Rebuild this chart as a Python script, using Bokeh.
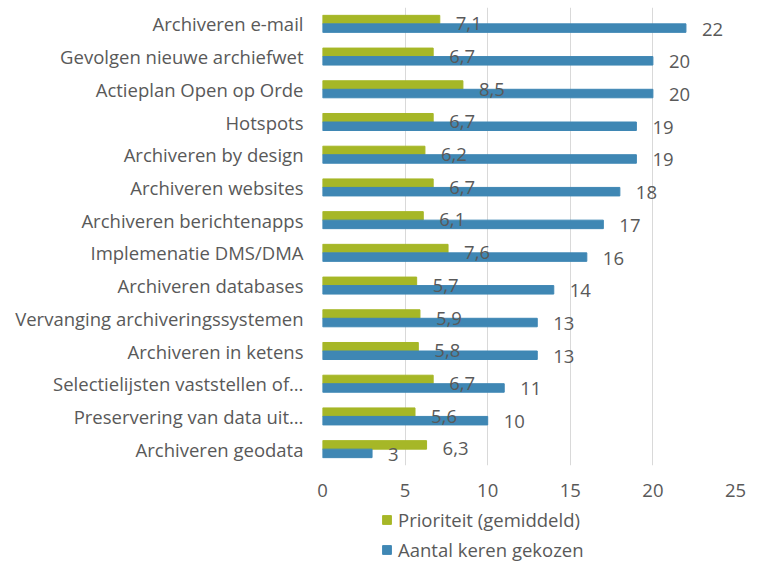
from bokeh.plotting import figure
from bokeh.models import ColumnDataSource, Legend, LegendItem, FactorRange
from bokeh.layouts import column
from bokeh.transform import dodge
from bokeh.embed import file_html
from bokeh.resources import INLINE
from bokeh.core.properties import value

categories = [
    "Archiveren e-mail",
    "Gevolgen nieuwe archiefwet",
    "Actieplan Open op Orde",
    "Hotspots",
    "Archiveren by design",
    "Archiveren websites",
    "Archiveren berichtenapps",
    "Implemenatie DMS/DMA",
    "Archiveren databases",
    "Vervanging archiveringssystemen",
    "Archiveren in ketens",
    "Selectielijsten vaststellen of\u2026",
    "Preservering van data uit\u2026",
    "Archiveren geodata",
]
prioriteit = [7.1, 6.7, 8.5, 6.7, 6.2, 6.7, 6.1, 7.6, 5.7, 5.9, 5.8, 6.7, 5.6, 6.3]
aantal = [22, 20, 20, 19, 19, 18, 17, 16, 14, 13, 13, 11, 10, 3]
x_ticks = [0, 5, 10, 15, 20, 25]
series_names = ["Prioriteit (gemiddeld)", "Aantal keren gekozen"]

GREEN = "#a6b727"
BLUE = "#3f87b4"
TEXT = "#595959"
FONT = "Open Sans"
FS = "18.5px"

src = ColumnDataSource(dict(
    cat=categories,
    prio=prioriteit,
    aantal=aantal,
    prio_lbl=[f"{v:.1f}".replace(".", ",") for v in prioriteit],
    aantal_lbl=[str(v) for v in aantal],
))

p = figure(
    width=760, height=505,
    y_range=FactorRange(factors=list(reversed(categories)), range_padding=0),
    x_range=(0, 25),
    output_backend="svg", toolbar_location=None,
    min_border_left=322, min_border_right=25, min_border_top=7, min_border_bottom=40,
)
p.outline_line_color = None
p.background_fill_color = "white"
p.border_fill_color = "white"

h = 0.26
p.hbar(y=dodge("cat", h / 2, range=p.y_range), right="prio", left=0, height=h,
       color=GREEN, source=src)
p.hbar(y=dodge("cat", -h / 2, range=p.y_range), right="aantal", left=0, height=h,
       color=BLUE, source=src)

p.text(x="prio", y=dodge("cat", h / 2, range=p.y_range), text="prio_lbl", source=src,
       x_offset=16, y_offset=4, text_baseline="middle", text_align="left",
       text_font=value(FONT), text_font_size=FS, text_color=TEXT)
p.text(x="aantal", y=dodge("cat", -h / 2, range=p.y_range), text="aantal_lbl", source=src,
       x_offset=16, y_offset=1, text_baseline="middle", text_align="left",
       text_font=value(FONT), text_font_size=FS, text_color=TEXT)

p.xaxis.ticker = x_ticks
p.xgrid.ticker = x_ticks
p.xgrid.grid_line_color = "#d9d9d9"
p.xgrid.grid_line_width = 1
p.ygrid.grid_line_color = None

for ax in (p.xaxis[0], p.yaxis[0]):
    ax.axis_line_color = None
    ax.major_tick_line_color = None
    ax.minor_tick_line_color = None
    ax.major_tick_out = 0
    ax.major_tick_in = 0
    ax.major_label_text_font = FONT
    ax.major_label_text_font_size = FS
    ax.major_label_text_color = TEXT
p.xaxis.major_label_standoff = 18
p.yaxis.major_label_standoff = 19

# Legend strip below the chart (its frame is aligned with the chart's frame).
# Hidden proxy renderers only supply the legend swatches.
lp = figure(width=760, height=57, output_backend="svg", toolbar_location=None,
            min_border_left=0, min_border_right=0, min_border_top=0, min_border_bottom=0,
            x_range=(0, 1), y_range=(0, 1))
lp.outline_line_color = None
lp.axis.visible = False
lp.grid.visible = False
proxy = ColumnDataSource(dict(y=[0], prio=prioriteit[:1], aantal=aantal[:1]))
lg = lp.hbar(y="y", right="prio", left=0, height=1, color=GREEN, source=proxy, visible=False)
lb = lp.hbar(y="y", right="aantal", left=0, height=1, color=BLUE, source=proxy, visible=False)

legend = Legend(
    items=[LegendItem(label=series_names[0], renderers=[lg]),
           LegendItem(label=series_names[1], renderers=[lb])],
    location=(59, 0),
    orientation="vertical",
    glyph_width=11, glyph_height=11,
    label_height=20, spacing=5, label_standoff=6,
    padding=0, margin=0, click_policy="none",
    border_line_color=None, background_fill_alpha=0,
    label_text_font=FONT, label_text_font_size=FS, label_text_color=TEXT,
)
lp.add_layout(legend, "center")

open("out.html", "w").write(file_html(column(p, lp, spacing=0), INLINE))
